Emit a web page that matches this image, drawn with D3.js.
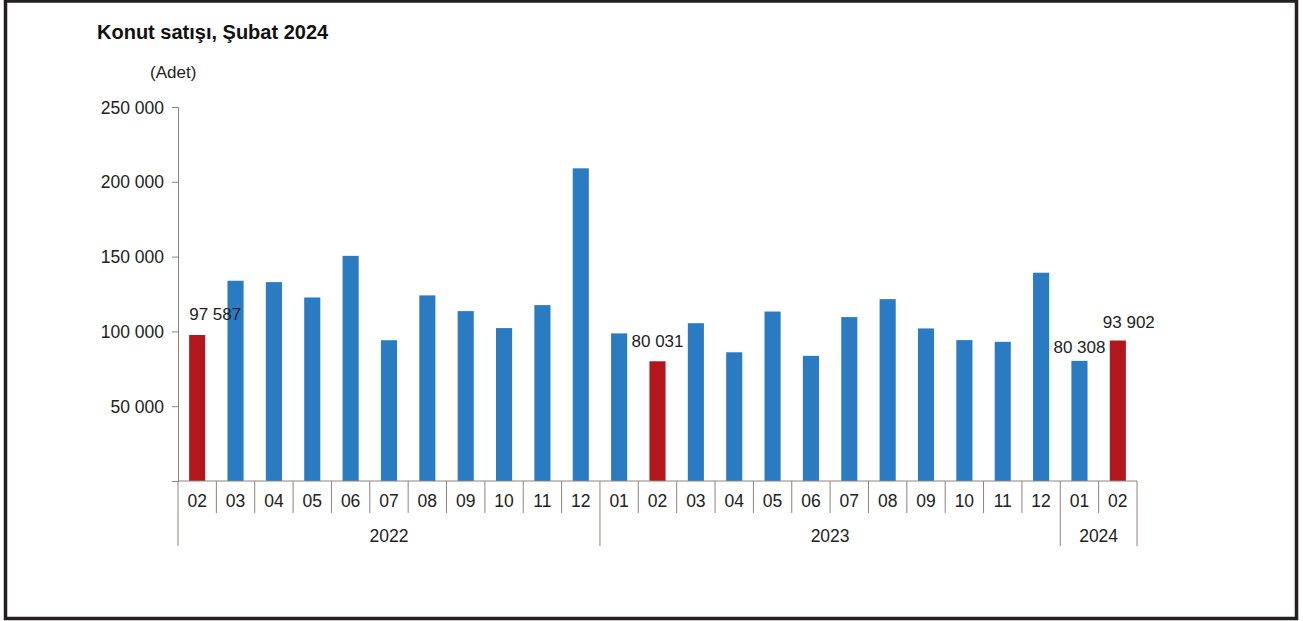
<!DOCTYPE html>
<html>
<head>
<meta charset="utf-8">
<script src="https://cdn.jsdelivr.net/npm/d3@7/dist/d3.min.js"></script>
<style>
  html, body { margin: 0; padding: 0; background: #fff; }
  svg { display: block; font-family: "Liberation Sans", Arial, sans-serif; }
</style>
</head>
<body>
<svg id="chart" width="1303" height="621"></svg>
<script>
// Monthly house sales (units)
const months = ["02","03","04","05","06","07","08","09","10","11","12",
                "01","02","03","04","05","06","07","08","09","10","11","12",
                "01","02"];
const years = ["2022","2022","2022","2022","2022","2022","2022","2022","2022","2022","2022",
               "2023","2023","2023","2023","2023","2023","2023","2023","2023","2023","2023","2023",
               "2024","2024"];
const sales = [97587, 133862, 132926, 122686, 150509, 94093, 124061, 113558, 102211, 117562, 209009,
               98674, 80031, 105476, 86034, 113276, 83636, 109562, 121560, 101976, 94182, 93039, 139222,
               80308, 93902];
// February bars are highlighted and labelled
const highlighted = [0, 12, 24];
const labelled = [0, 12, 23, 24];
const yTicks = [50000, 100000, 150000, 200000, 250000];

const fmt = v => d3.format(",")(v).replace(/,/g, " ");

const svg = d3.select("#chart");

// outer frame
svg.append("rect").attr("x", 5.5).attr("y", 1).attr("width", 1291).attr("height", 617.5)
  .attr("fill", "#fff").attr("stroke", "#231f20").attr("stroke-width", 3.5);

const plotLeft = 178, plotRight = 1137, plotTop = 107, plotBottom = 481;
const idx = d3.range(sales.length);

const x = d3.scaleBand().domain(idx).range([plotLeft, plotRight]).paddingInner(0.58).paddingOuter(0.29);
const y = d3.scaleLinear().domain([0, 250000]).range([plotBottom, plotTop]);
const step = x.step();
const axisColor = "#8a8480";

// title
svg.append("text").attr("x", 97).attr("y", 39).attr("font-size", 20).attr("font-weight", "bold")
  .attr("fill", "#111").text("Konut satışı, Şubat 2024");
svg.append("text").attr("x", 150).attr("y", 78).attr("font-size", 17).attr("fill", "#222").text("(Adet)");

// y axis
const yAxis = d3.axisLeft(y).tickValues([0, ...yTicks]).tickSize(6).tickPadding(8)
  .tickFormat(d => d === 0 ? "" : fmt(d));
const gy = svg.append("g").attr("transform", `translate(${plotLeft},0)`).call(yAxis);
gy.select(".domain").attr("stroke", axisColor);
gy.selectAll(".tick line").attr("stroke", axisColor);
gy.selectAll(".tick text").attr("font-size", 17.5).attr("fill", "#222")
  .attr("font-family", "Liberation Sans, Arial, sans-serif").attr("dy", "0.35em");

// bars
svg.append("g").selectAll("rect").data(idx).join("rect")
  .attr("x", i => x(i)).attr("width", x.bandwidth())
  .attr("y", i => y(sales[i])).attr("height", i => plotBottom - y(sales[i]))
  .attr("fill", i => highlighted.includes(i) ? "#b3171e" : "#2b7bc3");

// x axis line
svg.append("line").attr("x1", plotLeft).attr("x2", plotRight).attr("y1", plotBottom).attr("y2", plotBottom)
  .attr("stroke", axisColor);

// month dividers and labels
const gx = svg.append("g");
idx.forEach(i => {
  const x0 = plotLeft + i * step;
  const newYear = i === 0 || years[i] !== years[i - 1];
  gx.append("line").attr("x1", x0).attr("x2", x0).attr("y1", plotBottom)
    .attr("y2", newYear ? 546 : 513).attr("stroke", axisColor);
  gx.append("text").attr("x", x0 + step / 2).attr("y", 507).attr("text-anchor", "middle")
    .attr("font-size", 17.5).attr("fill", "#222").text(months[i]);
});
gx.append("line").attr("x1", plotRight).attr("x2", plotRight).attr("y1", plotBottom).attr("y2", 546)
  .attr("stroke", axisColor);

// year labels centred under their month groups
const groups = d3.groups(idx, i => years[i]);
groups.forEach(([yr, list]) => {
  const a = plotLeft + d3.min(list) * step, b = plotLeft + (d3.max(list) + 1) * step;
  gx.append("text").attr("x", (a + b) / 2).attr("y", 542).attr("text-anchor", "middle")
    .attr("font-size", 17.5).attr("fill", "#222").text(yr);
});

// value labels
const labelShift = { 0: [18, -15], 12: [0, -14], 23: [0, -8], 24: [11, -13] };
labelled.forEach(i => {
  const [dx, dy] = labelShift[i];
  svg.append("text").attr("x", x(i) + x.bandwidth() / 2 + dx).attr("y", y(sales[i]) + dy)
    .attr("text-anchor", "middle").attr("font-size", 17).attr("fill", "#222")
    .text(fmt(sales[i]));
});
</script>
</body>
</html>
